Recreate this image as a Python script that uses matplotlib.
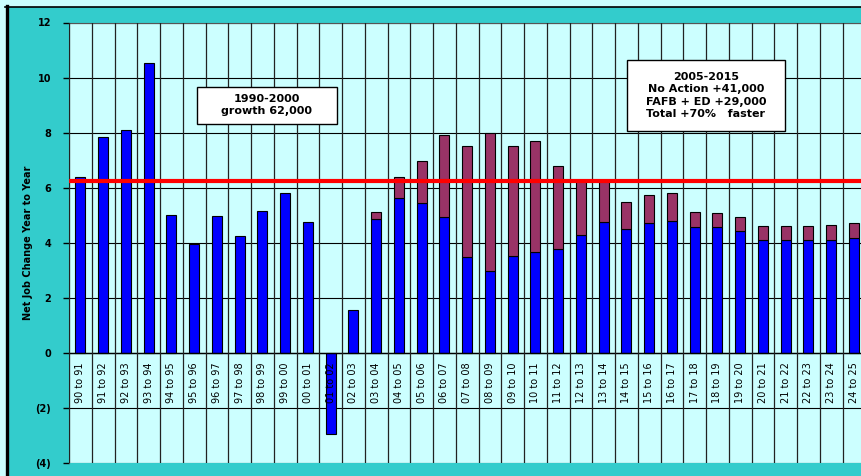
import matplotlib.pyplot as plt
from matplotlib.patches import Rectangle
from matplotlib.lines import Line2D
from matplotlib.ticker import FuncFormatter

# year-to-year periods
periods = ["90 to 91", "91 to 92", "92 to 93", "93 to 94", "94 to 95", "95 to 96",
           "96 to 97", "97 to 98", "98 to 99", "99 to 00", "00 to 01", "01 to 02",
           "02 to 03", "03 to 04", "04 to 05", "05 to 06", "06 to 07", "07 to 08",
           "08 to 09", "09 to 10", "10 to 11", "11 to 12", "12 to 13", "13 to 14",
           "14 to 15", "15 to 16", "16 to 17", "17 to 18", "18 to 19", "19 to 20",
           "20 to 21", "21 to 22", "22 to 23", "23 to 24", "24 to 25"]

# net job change, thousands (no action / historic)
no_action = [6.4, 7.83, 8.1, 10.53, 5.02, 3.96, 4.98, 4.24, 5.15, 5.81, 4.75, -2.95,
             1.54, 4.87, 5.62, 5.45, 4.92, 3.5, 2.99, 3.53, 3.68, 3.78, 4.28, 4.76,
             4.49, 4.73, 4.8, 4.57, 4.57, 4.44, 4.1, 4.1, 4.11, 4.1, 4.17]

# added jobs from FAFB + ED
fafb_ed = [0, 0, 0, 0, 0, 0, 0, 0, 0, 0, 0, 0,
           0, 0.23, 0.76, 1.52, 3.0, 4.0, 5.0, 4.0, 4.0, 3.0, 2.0, 1.5,
           1.0, 1.0, 1.0, 0.55, 0.5, 0.5, 0.5, 0.5, 0.5, 0.55, 0.55]

avg_1990s = 6.25

W, H = 861, 476
fig = plt.figure(figsize=(W / 100, H / 100), dpi=100)
fig.patch.set_facecolor('#CCFFFF')

# teal chart area with dark frame top and left
fig.add_artist(Rectangle((8 / W, 0), 1, 1 - 6.5 / H, transform=fig.transFigure,
                         facecolor='#33CCCC', edgecolor='none', zorder=0))
fig.add_artist(Line2D([6.5 / W, 6.5 / W], [0, 1 - 6 / H], transform=fig.transFigure,
                      color='black', lw=2.4))
fig.add_artist(Line2D([5 / W, 1], [1 - 6.5 / H, 1 - 6.5 / H], transform=fig.transFigure,
                      color='black', lw=1.2))

ax = fig.add_axes([69 / W, 13 / H, 796.25 / W, 440.5 / H])
ax.set_facecolor('#CCFFFF')

x = list(range(len(periods)))
ax.bar(x, no_action, width=0.44, color='#0000FF', edgecolor='black', linewidth=0.8, zorder=2)
xs = [i for i in x if fafb_ed[i] > 0]
ax.bar(xs, [fafb_ed[i] for i in xs], bottom=[no_action[i] for i in xs], width=0.44,
       color='#993366', edgecolor='black', linewidth=0.8, zorder=2)

ax.axhline(avg_1990s, xmin=2 / 796.25, color='#FF0000', lw=3, zorder=4)

ax.set_xlim(-0.5, len(periods) - 0.5)
ax.set_ylim(-4, 12)

ax.set_yticks(range(-4, 13, 2))
ax.yaxis.set_major_formatter(FuncFormatter(lambda v, p: f"({abs(int(v))})" if v < 0 else f"{int(v)}"))
ax.tick_params(axis='y', length=4, width=1, pad=9, labelsize=7, colors='black')

ax.set_xticks(x)
ax.set_xticklabels(periods)
ax.set_xticks([i - 0.5 for i in range(len(periods) + 1)], minor=True)
ax.tick_params(axis='x', which='both', length=0, pad=7, labelsize=7, labelrotation=90)

for t in ax.get_yticklabels():
    t.set_fontweight('bold')

ax.yaxis.grid(True, color='black', lw=0.8)
ax.xaxis.grid(True, which='minor', color='#222222', lw=0.9)
ax.set_axisbelow(True)
# period labels sit on top of the negative bar
ax.xaxis.set_zorder(2.5)

ax.spines['bottom'].set_position(('data', 0))
ax.spines['bottom'].set_color('black')
ax.spines['bottom'].set_linewidth(1.0)
ax.spines['left'].set_color('#555555')
ax.spines['top'].set_color('#555555')
ax.spines['right'].set_visible(False)

ax.set_ylabel('Net Job Change Year to Year', fontsize=7, fontweight='bold')
ax.yaxis.set_label_coords(-0.045, 0.5)

# note boxes
ax.add_patch(Rectangle((5.13, 8.33), 6.15, 1.34, facecolor='white', edgecolor='black', lw=1, zorder=5))
ax.text(8.2, 9.0, "1990-2000\ngrowth 62,000", ha='center', va='center', fontsize=8,
        fontweight='bold', linespacing=1.3, zorder=6)

ax.add_patch(Rectangle((24.03, 8.07), 6.94, 2.55, facecolor='white', edgecolor='black', lw=1, zorder=5))
ax.text(27.5, 9.35, "2005-2015\nNo Action +41,000\nFAFB + ED +29,000\nTotal +70%   faster",
        ha='center', va='center', fontsize=8, fontweight='bold', linespacing=1.3, zorder=6)

fig.savefig('out.png', dpi=100, facecolor=fig.get_facecolor())
